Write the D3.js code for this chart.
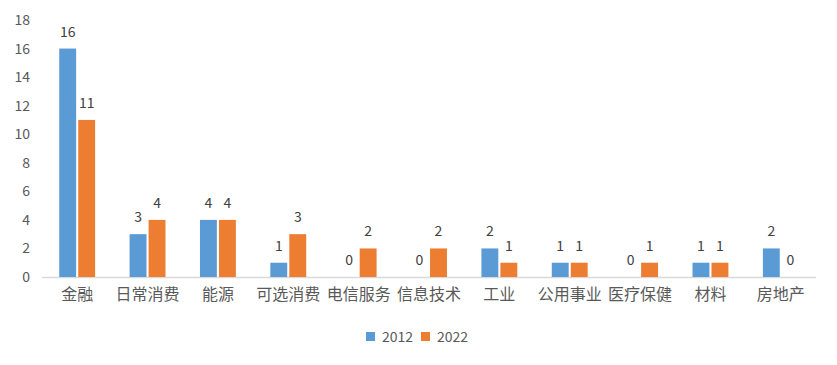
<!DOCTYPE html>
<html><head><meta charset="utf-8">
<script src="https://cdn.jsdelivr.net/npm/d3@7"></script>
<style>body{margin:0;background:#fff;}svg{display:block;}</style>
</head><body><svg id="c" width="837" height="365"></svg>
<script>
const categories = ["金融","日常消费","能源","可选消费","电信服务","信息技术","工业","公用事业","医疗保健","材料","房地产"];
const series2012 = [16,3,4,1,0,0,2,1,0,1,2];
const series2022 = [11,4,4,3,2,2,1,1,1,1,0];
const seriesNames = ["2012","2022"];
const colors = ["#5B9BD5","#ED7D31"];
const yTicks = [0,2,4,6,8,10,12,14,16,18];

const svg = d3.select("#c");
const font = "'Noto Sans CJK SC','Noto Sans',sans-serif";
const x = d3.scaleBand().domain(categories).range([42,816]).paddingInner(0.49).paddingOuter(0.245);
const y = d3.scaleLinear().domain([0,18]).range([277,20]);
const xs = d3.scaleBand().domain(seriesNames).range([0,x.bandwidth()]).paddingInner(0.11);

// y tick labels
const yAxis = d3.axisLeft(y).tickValues(yTicks).tickSize(0).tickPadding(0);
const ga = svg.append("g").attr("transform","translate(30,0)").call(yAxis);
ga.select(".domain").remove();
ga.selectAll("text").attr("font-family",font).attr("font-size",14).attr("fill","#595959");

// baseline
svg.append("line").attr("x1",42).attr("x2",816).attr("y1",y(0)+0.5).attr("y2",y(0)+0.5)
  .attr("stroke","#d9d9d9").attr("stroke-width",1.5);

const data = [series2012, series2022];
data.forEach((vals,si)=>{
  const g = svg.append("g");
  g.selectAll("rect").data(categories).join("rect")
    .attr("x",d=>x(d)+xs(seriesNames[si]))
    .attr("width",xs.bandwidth())
    .attr("y",(d,i)=>y(vals[i]))
    .attr("height",(d,i)=>y(0)-y(vals[i]))
    .attr("fill",colors[si]);
  g.selectAll("text").data(categories).join("text")
    .attr("x",d=>x(d)+xs(seriesNames[si])+xs.bandwidth()/2)
    .attr("y",(d,i)=>y(vals[i])-12)
    .attr("text-anchor","middle")
    .attr("font-family",font).attr("font-size",14).attr("fill","#404040")
    .text((d,i)=>vals[i]);
});

// category labels
const xAxis = d3.axisBottom(x).tickSize(0).tickPadding(0);
const gx = svg.append("g").attr("transform",`translate(0,${y(0)+12})`).call(xAxis);
gx.select(".domain").remove();
gx.selectAll("text").attr("font-family",font).attr("font-size",16).attr("fill","#595959").attr("dy","0.71em");

// legend
const lg = svg.append("g").attr("transform","translate(366,337)");
seriesNames.forEach((n,i)=>{
  const ox = i*55;
  lg.append("rect").attr("x",ox).attr("y",-5).attr("width",9).attr("height",9).attr("fill",colors[i]);
  lg.append("text").attr("x",ox+16).attr("y",0).attr("dy","0.35em")
    .attr("font-family",font).attr("font-size",14).attr("fill","#595959").text(n);
});
</script></body></html>
